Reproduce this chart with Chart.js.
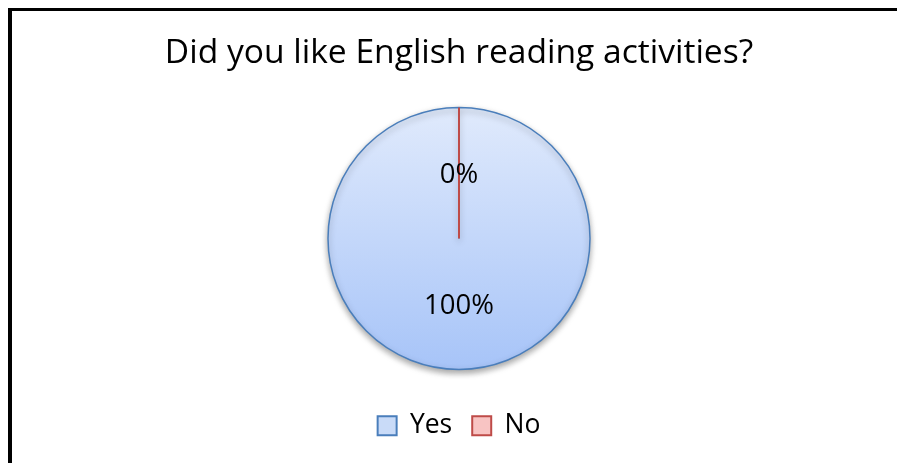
<!DOCTYPE html>
<html lang="en">
<head>
<meta charset="UTF-8" />
<title>Reading Activities Survey</title>
<script src="https://cdn.jsdelivr.net/npm/chart.js"></script>
<style>
* { box-sizing: border-box; }
html, body {
    margin: 0;
    padding: 0;
    background: #fff;
    width: 897px;
    height: 463px;
    overflow: hidden;
}
.frame {
    position: absolute;
    left: 8px;
    top: 8px;
    width: 889px;
    height: 455px;
    border-top: 3px solid #000;
    border-left: 4px solid #000;
}
.frame canvas {
    display: block;
}
</style>
</head>
<body>
<div class="frame">
    <canvas id="surveyChart" width="885" height="452"></canvas>
</div>
<script>
const answers = ['Yes', 'No'];
const counts = [100, 0];
const sliceBorder = ['#4a7ebb', '#be4b48'];
const legendFill = ['#c9dbf8', '#f8c4c3'];

const FONT = '"Open Sans", sans-serif';

// vertical gradient across the pie, light at the top, deeper blue at the bottom
function pieFill(context) {
    const arc = context.element;
    if (context.dataIndex === 1) return '#f4b3b1';
    if (!arc || !context.chart.chartArea) return '#c6d9f7';
    const area = context.chart.chartArea;
    const cy = (area.top + area.bottom) / 2;
    const g = context.chart.ctx.createLinearGradient(0, cy - 131, 0, cy + 131);
    g.addColorStop(0, '#e0eafc');
    g.addColorStop(1, '#a7c4f8');
    return g;
}

// soft shadow under the pie, red spoke for empty slices, percentage labels
const pieExtras = {
    id: 'pieExtras',
    beforeDatasetsDraw(chart) {
        const ctx = chart.ctx;
        ctx.save();
        ctx.shadowColor = 'rgba(0,0,0,0.35)';
        ctx.shadowBlur = 6;
        ctx.shadowOffsetY = 3;
    },
    afterDatasetsDraw(chart) {
        const ctx = chart.ctx;
        ctx.restore();
        const meta = chart.getDatasetMeta(0);
        const data = chart.data.datasets[0].data;
        const total = data.reduce((a, b) => a + b, 0);

        meta.data.forEach((arc, i) => {
            const p = arc.getProps(['x', 'y', 'startAngle', 'circumference', 'outerRadius'], true);
            if (p.circumference === 0) {
                ctx.save();
                ctx.strokeStyle = sliceBorder[i];
                ctx.lineWidth = 2;
                ctx.beginPath();
                ctx.moveTo(p.x, p.y);
                ctx.lineTo(p.x + p.outerRadius * Math.cos(p.startAngle),
                           p.y + p.outerRadius * Math.sin(p.startAngle));
                ctx.stroke();
                ctx.restore();
            }
        });

        meta.data.forEach((arc, i) => {
            const pos = arc.tooltipPosition(true);
            const pct = Math.round(data[i] / total * 100) + '%';
            ctx.save();
            ctx.font = '27.5px ' + FONT;
            ctx.fillStyle = '#000';
            ctx.textAlign = 'center';
            ctx.textBaseline = 'middle';
            ctx.fillText(pct, pos.x, pos.y + 2);
            ctx.restore();
        });
    }
};

new Chart(document.getElementById('surveyChart'), {
    type: 'pie',
    data: {
        labels: answers,
        datasets: [{
            data: counts,
            backgroundColor: pieFill,
            borderColor: sliceBorder,
            borderWidth: 1.5,
            radius: 131
        }]
    },
    options: {
        responsive: false,
        animation: false,
        events: [],
        layout: { padding: { left: 9, top: 0, bottom: 14 } },
        plugins: {
            title: {
                display: true,
                text: 'Did you like English reading activities?',
                color: '#000',
                font: { family: FONT, size: 33.6, weight: 'normal' },
                padding: { top: 22, bottom: 11 }
            },
            legend: {
                position: 'bottom',
                labels: {
                    color: '#000',
                    font: { family: FONT, size: 26.5 },
                    boxWidth: 19,
                    boxHeight: 19,
                    padding: 20,
                    generateLabels: chart => chart.data.labels.map((t, i) => ({
                        text: t,
                        fillStyle: legendFill[i],
                        strokeStyle: sliceBorder[i],
                        lineWidth: 2,
                        fontColor: '#000',
                        hidden: false,
                        index: i
                    }))
                }
            },
            tooltip: { enabled: false }
        }
    },
    plugins: [pieExtras]
});
</script>
</body>
</html>
